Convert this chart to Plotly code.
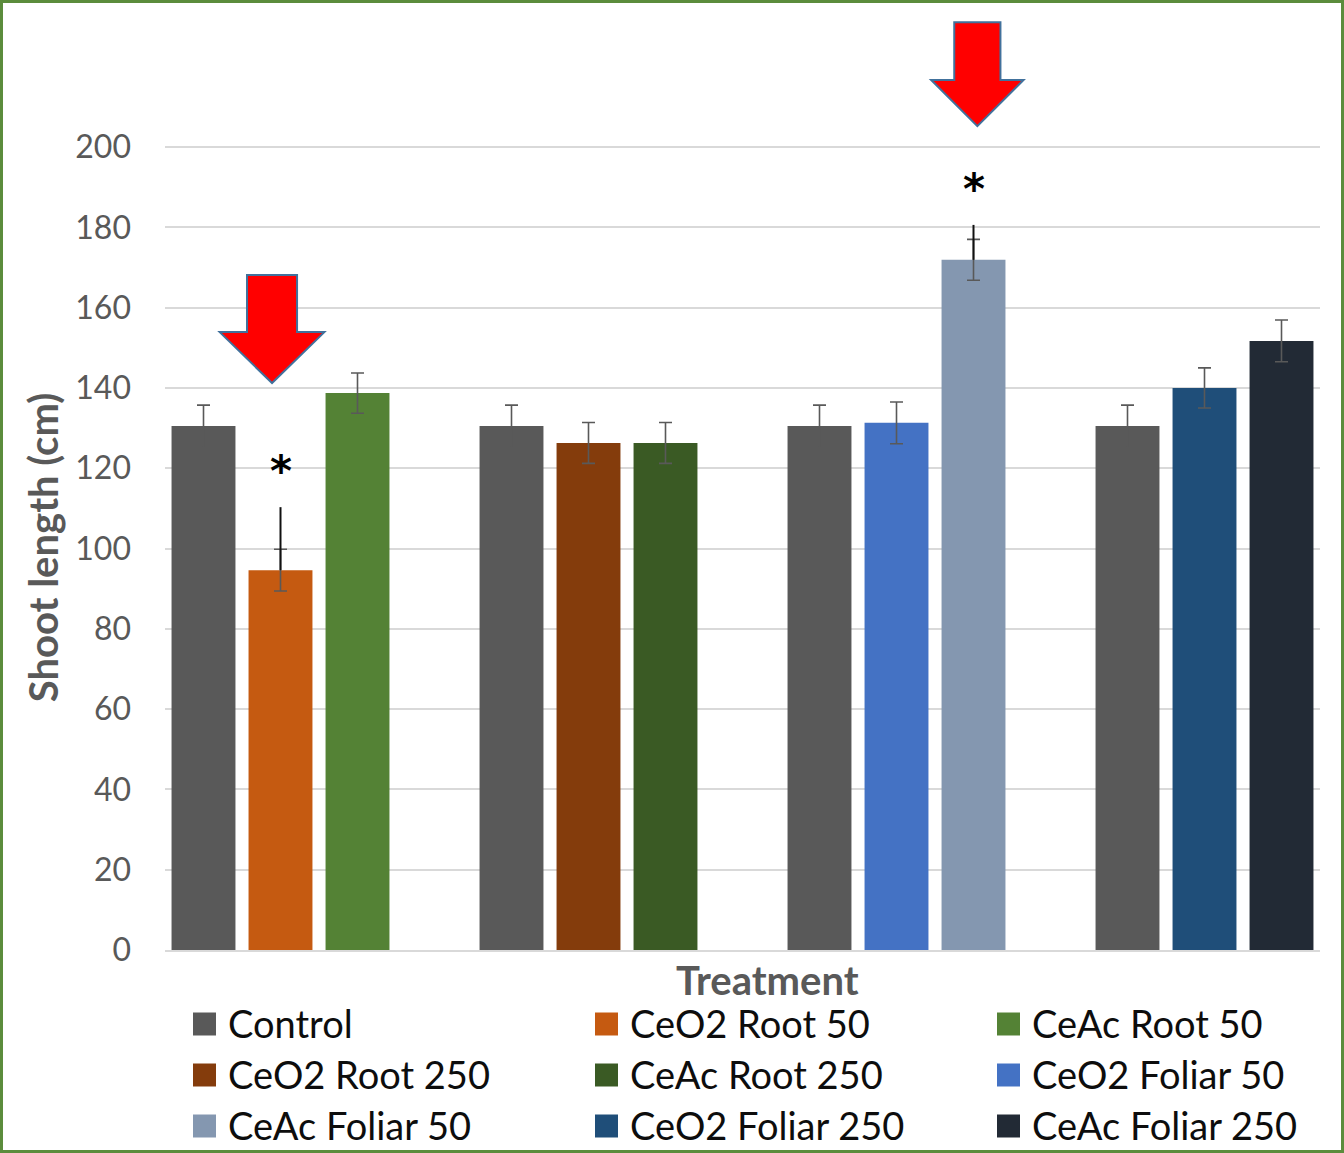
import plotly.graph_objects as go

# ---- data -------------------------------------------------------------
series = ["Control", "CeO2 Root 50", "CeAc Root 50", "CeO2 Root 250", "CeAc Root 250",
          "CeO2 Foliar 50", "CeAc Foliar 50", "CeO2 Foliar 250", "CeAc Foliar 250"]
colors = ["#595959", "#C55A11", "#548235", "#843C0C", "#3A5A24",
          "#4472C4", "#8497B0", "#1F4E79", "#222A35"]

# the control is repeated at the head of each of the four treatment groups
control_mean = [130.5, 130.5, 130.5, 130.5]
control_err = [5.2, 5.2, 5.2, 5.2]

# one bar per treatment (series[1:] order)
treat_mean = [94.6, 138.7, 126.3, 126.3, 131.3, 171.9, 140.0, 151.7]
treat_err = [5.2, 5.0, 5.1, 5.1, 5.2, 5.1, 5.0, 5.2]

# significant treatments: series name, upper end of the drawn range, asterisk height
sig_series = ["CeO2 Root 50", "CeAc Foliar 50"]
sig_upper = [110.3, 180.6]
sig_star_y = [119.3, 189.3]

y_ticks = [0, 20, 40, 60, 80, 100, 120, 140, 160, 180, 200]

# ---- layout constants -------------------------------------------------
GROUP_STEP = 4          # three bars + one empty slot per group
BAR_W = 0.83
X_RANGE = [-0.5, 14.5]
Y_RANGE = [0, 200.5]
FONT = "Lato, 'Open Sans', sans-serif"
GREY = "#595959"

W, H = 1344, 1153
L, R, T, B = 165, 24, 145, 203
PW, PH = W - L - R, H - T - B


def bar_x(i):
    """x position of treatment i (index into treat_mean)."""
    return GROUP_STEP * (i // 2) + 1 + i % 2


def to_paper(x, y):
    px = (x - X_RANGE[0]) / (X_RANGE[1] - X_RANGE[0])
    py = (y - Y_RANGE[0]) / (Y_RANGE[1] - Y_RANGE[0])
    return px, py


def pix_x(px):
    return (px - L) / PW


def pix_y(py):
    return (H - B - py) / PH


fig = go.Figure()

err_style = dict(type="data", color=GREY, thickness=1.6, width=6.5)

fig.add_trace(go.Bar(
    name=series[0],
    x=[GROUP_STEP * g for g in range(len(control_mean))],
    y=control_mean,
    width=BAR_W,
    marker=dict(color=colors[0], line=dict(width=0)),
    error_y=dict(array=control_err, **err_style),
))

for i, (m, e) in enumerate(zip(treat_mean, treat_err)):
    fig.add_trace(go.Bar(
        name=series[i + 1],
        x=[bar_x(i)],
        y=[m],
        width=BAR_W,
        marker=dict(color=colors[i + 1], line=dict(width=0)),
        error_y=dict(array=[e], **err_style),
    ))

shapes = []
annotations = []

# significance marks: vertical range line plus asterisk above it
for name, top, star_y in zip(sig_series, sig_upper, sig_star_y):
    i = series.index(name) - 1
    x = bar_x(i)
    shapes.append(dict(type="line", xref="x", yref="y", x0=x, x1=x,
                       y0=treat_mean[i], y1=top,
                       line=dict(color="#111111", width=2), layer="above"))
    annotations.append(dict(x=x, y=star_y, xref="x", yref="y", text="<b>*</b>",
                            showarrow=False,
                            font=dict(family="DejaVu Sans", size=42, color="#000000")))


def down_arrow(xc, y_tip, y_top, y_neck, half_head, half_shaft):
    pts = [(xc - half_shaft, y_top), (xc + half_shaft, y_top), (xc + half_shaft, y_neck),
           (xc + half_head, y_neck), (xc, y_tip), (xc - half_head, y_neck),
           (xc - half_shaft, y_neck)]
    pp = [to_paper(x, y) for x, y in pts]
    path = "M " + " L ".join(f"{px:.5f},{py:.5f}" for px, py in pp) + " Z"
    return dict(type="path", xref="paper", yref="paper", path=path,
                fillcolor="#FF0000", line=dict(color="#41719C", width=2),
                layer="above")


# highlight arrows pointing at the significant bars
shapes.append(down_arrow(0.89, 141.2, 168.1, 153.9, 0.68, 0.325))
shapes.append(down_arrow(10.05, 205.2, 231.1, 216.7, 0.60, 0.30))

# green frame round the whole chart
shapes.append(dict(type="rect", xref="paper", yref="paper",
                   x0=pix_x(1.5), x1=pix_x(W - 1.5),
                   y0=pix_y(H - 1.5), y1=pix_y(1.5),
                   line=dict(color="#5B8C3C", width=3), layer="below"))

# x-axis title
annotations.append(dict(x=pix_x(767), y=pix_y(980), xref="paper", yref="paper",
                        text="<b>Treatment</b>", showarrow=False,
                        xanchor="center", yanchor="middle",
                        font=dict(family=FONT, size=40, color=GREY)))

# legend: three columns, filled row by row
LEG_COL_X = [193, 595, 997]
LEG_ROW_Y = [1024, 1075, 1126]
SQ = 23
for k, (name, col) in enumerate(zip(series, colors)):
    cx = LEG_COL_X[k % 3]
    cy = LEG_ROW_Y[k // 3]
    shapes.append(dict(type="rect", xref="paper", yref="paper",
                       x0=pix_x(cx), x1=pix_x(cx + SQ),
                       y0=pix_y(cy + SQ / 2), y1=pix_y(cy - SQ / 2),
                       fillcolor=col, line=dict(width=0)))
    annotations.append(dict(x=pix_x(cx + SQ + 10), y=pix_y(cy - 1),
                            xref="paper", yref="paper", text=name,
                            showarrow=False, xanchor="left", yanchor="middle",
                            font=dict(family=FONT, size=38, color="#0D0D0D")))

fig.update_layout(
    width=W, height=H,
    margin=dict(l=L, r=R, t=T, b=B, pad=0),
    paper_bgcolor="white", plot_bgcolor="white",
    font=dict(family=FONT, color=GREY),
    barmode="overlay",
    showlegend=False,
    shapes=shapes,
    annotations=annotations,
    xaxis=dict(range=X_RANGE, showticklabels=False, ticks="", showgrid=False,
               zeroline=False, showline=True, linecolor="#D9D9D9", linewidth=2,
               automargin=False),
    yaxis=dict(range=Y_RANGE, tickvals=y_ticks, showgrid=True, gridcolor="#D9D9D9",
               gridwidth=1.5, zeroline=False, showline=False, ticks="",
               ticklabelstandoff=33, automargin=False,
               tickfont=dict(family=FONT, size=32, color=GREY),
               title=dict(text="<b>Shoot length (cm)</b>", standoff=4,
                          font=dict(family=FONT, size=40, color=GREY))),
)

fig.write_html("out.html")
